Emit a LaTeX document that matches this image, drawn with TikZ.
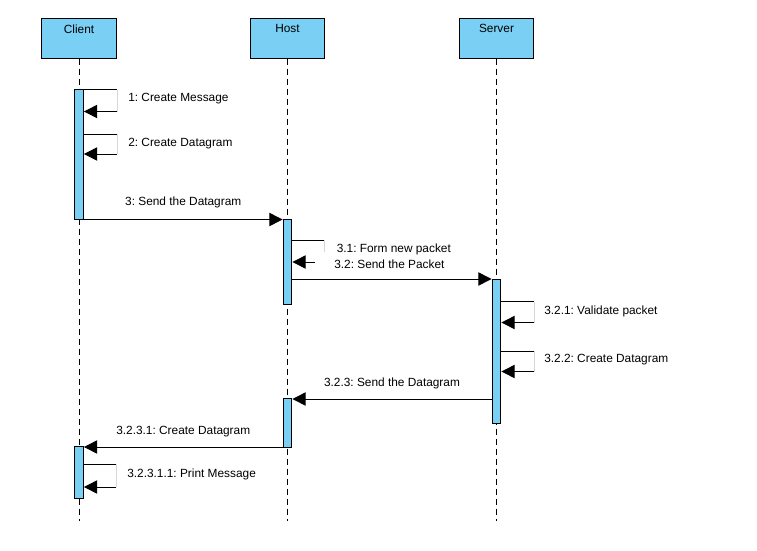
\documentclass[tikz,border=0pt]{standalone}
\usepackage{fontspec}
\setmainfont{Liberation Sans}
\frenchspacing
\usetikzlibrary{arrows.meta}
\usetikzlibrary{calc}
\definecolor{lifeblue}{RGB}{122,207,245}
\definecolor{loopgray}{RGB}{215,215,215}
\tikzstyle{headbox}=[draw=black,fill=lifeblue,line width=0.75pt,minimum width=56pt,minimum height=30pt,inner sep=0pt]
\tikzstyle{actbox}=[draw=black,fill=lifeblue,line width=0.75pt,minimum width=6.6pt,inner sep=0pt,anchor=north]
\tikzstyle{lifeline}=[draw=black,line width=0.75pt,dash pattern=on 4.5pt off 3pt]
\tikzstyle{blackline}=[draw=black,line width=0.75pt]
\tikzstyle{loopline}=[draw=loopgray,line width=0.75pt]
\tikzstyle{msg}=[draw=black,line width=0.75pt,-{Triangle[length=10pt,width=10pt]}]
\tikzstyle{msgtext}=[inner sep=0pt,anchor=west]

\begin{document}
\begin{tikzpicture}[x=0.75pt,y=-0.75pt,font=\fontsize{8.9}{10}\selectfont]
    \useasboundingbox (0,0) rectangle (757,550);

    \foreach \name/\txt/\xx in {client/Client/79,host/Host/287.5,server/Server/496.5}{
      \node[headbox,label={[anchor=north,inner sep=0pt,yshift=-5pt]north:\txt}] (\name) at (\xx,38) {};
      \coordinate (\name-end) at (\xx,521);
      \draw[lifeline] (\name.south) -- (\name-end);
    }

    \node[actbox,minimum height=97.5pt] (ca1) at (client |- 0,89) {};
    \node[actbox,minimum height=63.75pt] (ha1) at (host |- 0,219) {};
    \node[actbox,minimum height=108pt] (sa1) at (server |- 0,279) {};
    \node[actbox,minimum height=36.75pt] (ha2) at (host |- 0,398) {};
    \node[actbox,minimum height=39pt] (ca2) at (client |- 0,446) {};

    % client
    \draw[blackline] (ca1.east |- 0,89.5) -- (117,89.5);
    \draw[loopline] (117,89.5) -- (117,111.5);
    \draw[msg] (117,111.5) -- (ca1.east |- 0,111.5);
    \node[msgtext] (t1) at (128,99) {1: Create Message};

    \draw[blackline] (ca1.east |- 0,134) -- (117,134);
    \draw[loopline] (117,134) -- (117,154);
    \draw[msg] (117,154) -- (ca1.east |- 0,154);
    \node[msgtext] (t2) at (128,144) {2: Create Datagram};

    \draw[msg] (ca1.east |- 0,219.5) -- (ha1.west |- 0,219.5)
      node[midway,above=8pt,inner sep=0pt] (t3) {3: Send the Datagram};

    % host
    \draw[blackline] (ha1.east |- 0,240) -- (324,240);
    \draw[loopline] (324,240) -- (324,252);
    \coordinate (p32) at (315,262);
    \draw[msg] (p32) -- (ha1.east |- p32);
    \node[msgtext] (t31) at (336.5,249.5) {3.1: Form new packet};
    \node[msgtext] (t32) at (334,264.5) {3.2: Send the Packet};

    \draw[msg] (ha1.east |- 0,279) -- (sa1.west |- 0,279);

    % server
    \draw[blackline] (sa1.east |- 0,301.5) -- (534,301.5);
    \draw[loopline] (534,301.5) -- (534,322.5);
    \draw[msg] (534,322.5) -- (sa1.east |- 0,322.5);
    \node[msgtext] (t321) at (544,311) {3.2.1: Validate packet};

    \draw[blackline] (sa1.east |- 0,351) -- (534,351);
    \draw[loopline] (534,351) -- (534,371.5);
    \draw[msg] (534,371.5) -- (sa1.east |- 0,371.5);
    \node[msgtext] (t322) at (544,360) {3.2.2: Create Datagram};

    \draw[msg] (sa1.west |- 0,399) -- (ha2.east |- 0,399)
      node[midway,above=7pt,inner sep=0pt] (t323) {3.2.3: Send the Datagram};

    \draw[msg] (ha2.west |- 0,447) -- (ca2.east |- 0,447)
      node[midway,above=7pt,inner sep=0pt] (t3231) {3.2.3.1: Create Datagram};

    % client again
    \draw[blackline] (ca2.east |- 0,464) -- (116,464);
    \draw[loopline] (116,464) -- (116,487);
    \draw[msg] (116,487) -- (ca2.east |- 0,487);
    \node[msgtext] (t32311) at (127,474) {3.2.3.1.1: Print Message};
  \end{tikzpicture}
\end{document}
